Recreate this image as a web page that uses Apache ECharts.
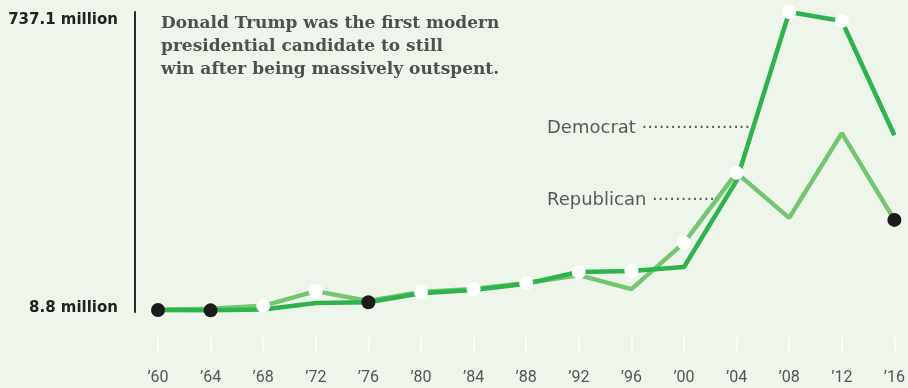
<!DOCTYPE html>
<html>
<head>
<meta charset="utf-8">
<script src="https://cdn.jsdelivr.net/npm/echarts@6/dist/echarts.min.js"></script>
<style>
  html, body { margin: 0; padding: 0; background: #eef6ec; }
  #chart { width: 908px; height: 388px; }
</style>
</head>
<body>
<div id="chart"></div>
<script>
// election years
const years = ["’60", "’64", "’68", "’72", "’76", "’80", "’84", "’88", "’92", "’96", "’00", "’04", "’08", "’12", "’16"];
// campaign spending, millions of dollars
const democrat = [8.8, 8.0, 10, 26, 28, 50, 58, 73, 102, 104, 114, 325, 737.1, 715, 436];
const republican = [9.5, 12, 19, 55, 31, 53, 60, 75, 94, 60, 173, 344, 234, 441, 229];
// who won, and whether the winner spent less than the loser
const winner = ["D", "D", "R", "R", "D", "R", "R", "R", "D", "D", "R", "R", "D", "D", "R"];
const outspent = [true, true, false, false, true, false, false, false, false, false, false, false, false, false, true];
const yTicks = [8.8, 737.1];

const DEM = "#2fb34c";
const REP = "#74c670";

const chart = echarts.init(document.getElementById("chart"));

const dots = years.map((y, i) => ({
  value: winner[i] === "D" ? democrat[i] : republican[i],
  itemStyle: { color: outspent[i] ? "#1c1c1c" : "#ffffff", opacity: 1 },
}));

chart.setOption({
  backgroundColor: "#eef6ec",
  animation: false,
  grid: { left: 158, right: 11, top: 12, bottom: 76 },
  title: {
    text: "Donald Trump was the first modern\npresidential candidate to still\nwin after being massively outspent.",
    left: 156,
    top: 7,
    textStyle: {
      fontFamily: "DejaVu Serif",
      fontSize: 17,
      fontWeight: "bold",
      color: "#505050",
      lineHeight: 23,
    },
  },
  graphic: [
    {
      type: "text",
      left: 547,
      top: 119,
      style: {
        text: "Democrat ····················",
        font: "18px 'DejaVu Sans'",
        fill: "#5a5a5a",
      },
    },
    {
      type: "text",
      left: 547,
      top: 191,
      style: {
        text: "Republican ···········",
        font: "18px 'DejaVu Sans'",
        fill: "#5a5a5a",
      },
    },
  ],
  xAxis: {
    type: "category",
    data: years,
    boundaryGap: false,
    offset: 25,
    axisLine: { show: false },
    axisTick: { show: true, length: 16, lineStyle: { color: "#ffffff", width: 1.5 } },
    axisLabel: {
      margin: 33,
      color: "#555",
      fontFamily: "Roboto",
      fontSize: 16,
    },
    splitLine: { show: false },
  },
  yAxis: {
    type: "value",
    min: 4,
    max: 737.1,
    offset: 23,
    axisLine: { show: true, lineStyle: { color: "#2a2a2a", width: 2 } },
    axisTick: { show: false },
    splitLine: { show: false },
    axisLabel: {
      customValues: yTicks,
      margin: 17,
      formatter: (v) => (v > 100 ? "{top|" + v + " million}" : "{bot|" + v + " million}"),
      rich: {
        top: { fontFamily: "DejaVu Sans", fontWeight: "bold", fontSize: 15, color: "#222", padding: [16, 0, 0, 0] },
        bot: { fontFamily: "DejaVu Sans", fontWeight: "bold", fontSize: 15, color: "#222", padding: [0, 0, 4, 0] },
      },
    },
  },
  series: [
    {
      name: "Republican",
      type: "line",
      data: republican,
      symbol: "none",
      z: 2,
      lineStyle: { color: REP, width: 4.5 },
    },
    {
      name: "Democrat",
      type: "line",
      data: democrat,
      symbol: "none",
      z: 3,
      lineStyle: { color: DEM, width: 4.5 },
    },
    {
      name: "Winner",
      type: "scatter",
      data: dots,
      symbolSize: 14,
      z: 5,
    },
  ],
});
</script>
</body>
</html>
